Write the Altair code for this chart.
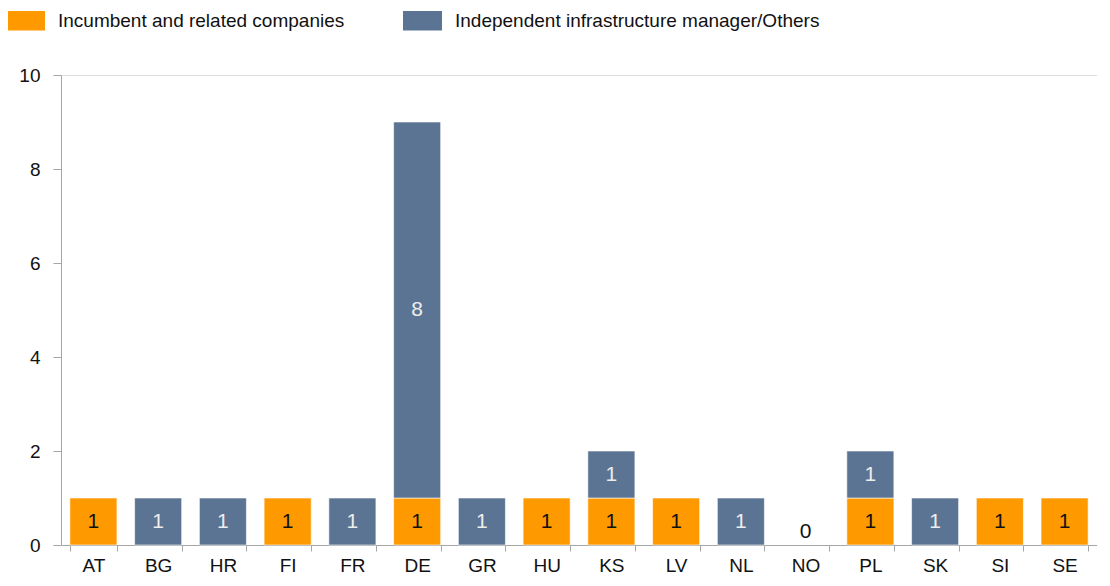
import altair as alt
import pandas as pd

countries = ["AT", "BG", "HR", "FI", "FR", "DE", "GR", "HU", "KS", "LV", "NL", "NO", "PL", "SK", "SI", "SE"]
incumbent = [1, 0, 0, 1, 0, 1, 0, 1, 1, 1, 0, 0, 1, 0, 1, 1]
independent = [0, 1, 1, 0, 1, 8, 1, 0, 1, 0, 1, 0, 1, 1, 0, 0]
series = ["Incumbent and related companies", "Independent infrastructure manager/Others"]
colors = ["#FF9900", "#5B7493"]
label_colors = ["#111111", "#EDEDED"]

rows = []
for c, a, b in zip(countries, incumbent, independent):
    rows.append({"country": c, "series": series[0], "value": a, "start": 0, "end": a, "lc": label_colors[0]})
    rows.append({"country": c, "series": series[1], "value": b, "start": a, "end": a + b, "lc": label_colors[1]})
df = pd.DataFrame(rows)
df["mid"] = (df["start"] + df["end"]) / 2
totals = pd.DataFrame({"country": countries, "total": [a + b for a, b in zip(incumbent, independent)]})

FONT = "Liberation Sans, Arial, sans-serif"

x_enc = alt.X("country:N", sort=countries, title=None,
              scale=alt.Scale(paddingInner=0.273, paddingOuter=0.137),
              axis=alt.Axis(labelAngle=0, labelFontSize=19, labelFont=FONT, labelColor="#111111",
                            domainColor="#A6A6A6", tickColor="#A6A6A6", tickSize=6,
                            tickBand="extent", labelPadding=5, grid=False))

bars = alt.Chart(df[df["value"] > 0]).mark_bar(stroke="white", strokeWidth=0.6).encode(
    x=x_enc,
    y=alt.Y("start:Q", title=None, scale=alt.Scale(domain=[0, 10]),
            axis=alt.Axis(values=[0, 2, 4, 6, 8, 10], labelFontSize=19, labelFont=FONT,
                          labelColor="#111111", domainColor="#A6A6A6", tickColor="#A6A6A6",
                          tickSize=8, labelPadding=13, grid=False)),
    y2="end:Q",
    color=alt.Color("series:N", sort=series,
                    scale=alt.Scale(domain=series, range=colors),
                    legend=alt.Legend(title=None, orient="none", direction="horizontal",
                                      legendX=-55, legendY=-74, padding=0,
                                      symbolType="M-1,-0.5H1V0.5H-1Z", symbolSize=1521,
                                      symbolStrokeWidth=0, symbolOpacity=1,
                                      labelFontSize=19, labelFont=FONT, labelColor="#111111",
                                      labelOffset=13, columnPadding=58, labelLimit=600)),
)

labels = alt.Chart(df[df["value"] > 0]).mark_text(fontSize=21, font=FONT, baseline="middle").encode(
    x=alt.X("country:N", sort=countries),
    y=alt.Y("mid:Q"),
    text=alt.Text("value:Q"),
    color=alt.Color("lc:N", scale=None),
)

zeros = alt.Chart(totals[totals["total"] == 0]).mark_text(
    fontSize=21, font=FONT, baseline="alphabetic", dy=-7, color="#111111").encode(
    x=alt.X("country:N", sort=countries),
    y=alt.Y("total:Q"),
    text=alt.Text("total:Q"),
)

chart = alt.layer(bars, labels, zeros).properties(
    width=1036, height=470,
    autosize=alt.AutoSizeParams(type="none"),
    padding={"left": 53, "top": 67, "right": 0, "bottom": 33},
).configure_view(stroke=None).configure(font=FONT)

chart.save("out.html", embed_options={"renderer": "svg", "actions": False})
